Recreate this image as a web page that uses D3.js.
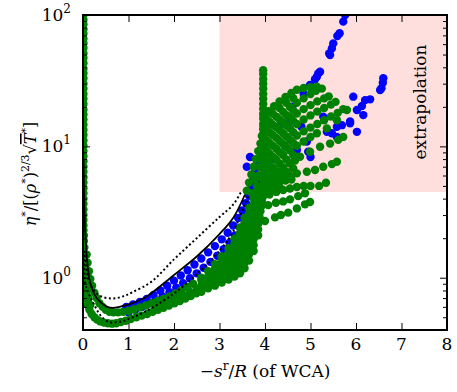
<!DOCTYPE html>
<html>
<head>
<meta charset="utf-8">
<script src="https://cdn.jsdelivr.net/npm/d3@7/dist/d3.min.js"></script>
<style>
  body { margin: 0; background: #fff; }
  text { font-family: "DejaVu Serif", serif; fill: #000; }
</style>
</head>
<body>
<svg id="chart" width="457" height="392"></svg>
<script>
// axis ticks / labels
const xTicks = [0, 1, 2, 3, 4, 5, 6, 7, 8];
const yMajor = [1, 10, 100];
const yMajorExp = ["0", "1", "2"];
const yMinor = [0.4, 0.5, 0.6, 0.7, 0.8, 0.9, 2, 3, 4, 5, 6, 7, 8, 9, 20, 30, 40, 50, 60, 70, 80, 90];
// shaded extrapolation box (x range, y range)
const extrapX = [3, 8];
const extrapY = [4.5, 100];

// model curves
const solidCurve = [[0.012,8],[0.02,5],[0.035,3],[0.06,1.9],[0.09,1.35],[0.14,0.98],[0.2,0.82],[0.3,0.7],
  [0.42,0.635],[0.55,0.597],[0.65,0.59],[0.8,0.6],[1.08,0.64],[1.4,0.72],[2.0,1.05],[2.5,1.45],
  [3.0,2.15],[3.3,2.85],[3.56,4.3]];
const upperDotted = [[0.03,1.6],[0.06,1.25],[0.09,1.08],[0.14,0.93],[0.2,0.84],[0.3,0.76],[0.45,0.71],
  [0.67,0.695],[0.9,0.725],[1.1,0.78],[1.5,0.93],[2.0,1.38],[2.5,2.0],[3.0,2.9],[3.3,3.6],[3.49,4.6]];
const lowerDotted = [[0.02,1.5],[0.05,0.9],[0.125,0.76],[0.27,0.6],[0.4,0.51],[0.56,0.461],[0.75,0.458],
  [0.93,0.475],[1.4,0.56],[2.0,0.76],[2.5,1.06],[3.0,1.6],[3.3,2.25],[3.63,4.2]];

// blue points
const blueBand = [[0.95,0.6],[1.1,0.625],[1.25,0.655],[1.4,0.69],[1.55,0.74],[1.7,0.8],[1.85,0.87],[2.0,0.95],
  [2.15,1.04],[2.3,1.14],[2.45,1.26],[2.6,1.4],[2.75,1.56],[2.9,1.74],[3.05,1.96],[3.18,2.2],[3.3,2.5],
  [3.41,2.85],[3.5,3.25],[3.58,3.7],[3.65,4.2],[3.7,4.8],[3.74,5.5],[3.78,6.3],[3.82,7.2],
  [1.0,0.545],[1.15,0.57],[1.3,0.6],[1.45,0.635],[1.6,0.675],[1.75,0.72],[1.9,0.775],[2.05,0.84],
  [2.2,0.91],[2.35,0.99],[2.5,1.08],[2.65,1.19],[2.8,1.32],[2.95,1.47],[3.09,1.65],[3.22,1.85],
  [3.34,2.1],[3.45,2.4],[3.55,2.75],[3.63,3.15]];
const blueFan = [[3.6,7.0],[3.67,8.3],[3.85,4.25],[3.89,5.2],[4.0,6.05],[4.04,5.87],[4.11,5.36],[4.15,6.2],
  [4.11,6.6],[4.2,8],[4.3,14],[4.45,10],[4.55,15.8],[4.6,20],[4.7,9.4],[4.8,14.1],[4.85,25],[4.92,10.9],
  [4.95,9.1],[5.0,8.3],[5.28,16.8],[5.36,12.9],[5.47,12.6],[5.58,11.8],[5.58,14.1],[5.69,14.5]];
const blueUpper = [[4.99,29.3],[5.1,32.4],[5.14,33.9],[5.17,35.9],[5.21,37],[5.41,51],[5.43,49.6],
  [5.47,55.7],[5.5,60.8],[5.59,69.2],[5.64,72.6],[5.72,89],[5.76,100]];
const blueRight = [[5.87,15],[5.87,15.5],[6.02,12.9],[6.02,18.9],[6.13,20.3],[6.16,17.3],[5.94,23.9],
  [6.2,22.5],[6.31,22.8],[6.53,26.8],[6.56,27.7],[6.59,30.5],[6.6,33]];

// green points: column along the y axis and the low U-shaped band
const greenLeft = [[0.01,100],[0.01,92],[0.01,85],[0.01,78],[0.01,72],[0.01,66],[0.01,61],[0.01,56],
  [0.01,51],[0.01,47],[0.01,43],[0.01,39],[0.01,36],[0.01,33],[0.01,30],[0.01,27.5],[0.01,25],[0.01,23],
  [0.01,21],[0.01,19],[0.01,17.5],[0.01,16],[0.01,14.6],[0.01,13.3],[0.01,12.2],[0.01,11.1],[0.01,10.1],
  [0.01,9.2],[0.01,8.4],[0.01,7.7],[0.01,7],[0.01,6.4],[0.01,5.8],[0.01,5.3],[0.01,4.8],[0.01,4.4],
  [0.01,4],[0.01,3.65],[0.01,3.3],[0.01,3],[0.01,2.75],[0.01,2.5],[0.01,2.3],[0.02,2.1],[0.02,1.9],
  [0.03,1.7],[0.03,1.5],[0.03,1.35],[0.03,1.2],[0.03,1.08],[0.03,0.97],[0.03,0.88],[0.03,0.8],[0.04,0.73]];
const greenBand = [[0.08,1.5],[0.1,1.3],[0.13,1.12],[0.16,0.98],[0.2,0.87],[0.25,0.77],[0.3,0.7],[0.36,0.64],
  [0.43,0.6],[0.5,0.57],[0.58,0.55],[0.67,0.545],[0.77,0.545],[0.88,0.55],[1.0,0.56],[1.12,0.575],
  [1.25,0.595],[1.38,0.615],[1.51,0.64],[1.64,0.665],[1.77,0.69],[1.9,0.72],[2.03,0.76],[2.16,0.8],
  [2.29,0.85],[2.42,0.9],
  [1.6,0.6],[1.75,0.63],[1.9,0.665],[2.05,0.7],[2.2,0.74],[2.35,0.78],[2.5,0.82],
  [0.06,0.7],[0.1,0.62],[0.14,0.57],[0.19,0.53],[0.25,0.5],[0.31,0.48],[0.38,0.465],[0.46,0.455],
  [0.55,0.45],[0.64,0.447],[0.73,0.45],[0.83,0.46],[0.94,0.47],[1.05,0.485],[1.17,0.5],[1.29,0.515],
  [1.41,0.53],[1.53,0.55],[1.65,0.57],[1.77,0.59],[1.89,0.615],[2.01,0.64],[2.13,0.665],[2.25,0.695],
  [2.37,0.725],[2.49,0.76],
  [0.05,1.1],[0.06,0.9],[0.09,0.8],[0.12,0.7],[0.16,0.62],
  // widening part of the band, read column by column
  [2.6,0.78],[2.6,0.87],[2.6,0.96],[2.6,1.0],
  [2.75,0.83],[2.75,0.92],[2.75,1.02],[2.75,1.12],
  [2.9,0.87],[2.9,0.96],[2.9,1.06],[2.9,1.17],[2.9,1.27],
  [3.05,0.92],[3.05,1.02],[3.05,1.13],[3.05,1.25],[3.05,1.36],[3.05,1.45],
  [3.2,0.97],[3.2,1.07],[3.2,1.18],[3.2,1.3],[3.2,1.43],[3.2,1.56],[3.2,1.68],
  [3.33,1.02],[3.33,1.13],[3.33,1.25],[3.33,1.38],[3.33,1.52],[3.33,1.67],[3.33,1.82],[3.33,1.98],
  [3.45,1.08],[3.45,1.2],[3.45,1.33],[3.45,1.47],[3.45,1.62],[3.45,1.79],[3.45,1.97],[3.45,2.17],[3.45,2.4],
  [3.55,1.18],[3.55,1.3],[3.55,1.44],[3.55,1.6],[3.55,1.77],[3.55,1.96],[3.55,2.17],[3.55,2.4],[3.55,2.62],[3.55,2.85],
  [3.65,1.35],[3.65,1.5],[3.65,1.66],[3.65,1.84],[3.65,2.04],[3.65,2.26],[3.65,2.5],[3.65,2.77],[3.65,3.07],[3.65,3.4],
  [3.75,1.6],[3.75,1.77],[3.75,1.96],[3.75,2.17],[3.75,2.4],[3.75,2.66],[3.75,2.95],[3.75,3.27],[3.75,3.62],[3.75,4.0],
  [3.85,2.1],[3.85,2.33],[3.85,2.58],[3.85,2.86],[3.85,3.17],[3.85,3.5],[3.85,3.9],[3.85,4.3]];
// green points near x = 4: vertical stack and its left flank
const greenSpike = [[3.8,2.3],[3.85,2.6],[3.88,2.9],[3.9,3.2],[3.92,3.5],[3.93,3.8],
  [3.6,4.6],[3.65,5.3],[3.7,6.1],[3.75,7.0],[3.8,8.0],[3.85,9.2],[3.9,10.5],[3.93,12],
  [3.72,4.4],[3.8,4.0],[3.82,5.0],[3.86,6.0],[3.88,7.0],[3.9,8.2],[3.92,9.5],[3.78,5.6],[3.84,4.6],
  [3.96,4.3],[3.96,4.7],[3.96,5.1],[3.96,5.6],[3.96,6.1],[3.96,6.7],[3.96,7.3],[3.96,8],[3.96,8.7],
  [3.96,9.5],[3.96,10.4],[3.96,11.3],[3.96,12.4],[3.96,13.5],[3.96,14.8],[3.96,16.2],[3.96,17.7],
  [3.96,19.3],[3.96,21],[3.96,23],[3.96,25],[3.96,27.5],[3.96,30],[3.96,32.5],[3.96,35.5],[3.96,38]];
// green points fanning out to the right of x = 4
const greenFan = [
  [3.78,2.5],[3.85,2.61],[4.0,2.7],[4.22,2.88],[4.35,3.0],[4.51,3.13],[4.7,3.37],[4.88,3.62],[4.99,3.77],
  [3.89,3.45],[4.07,3.57],[4.24,3.72],[4.4,3.81],[4.55,3.95],[4.73,4.18],[4.88,4.39],
  [3.95,4.1],[4.1,4.3],[4.25,4.5],[4.4,4.65],[4.55,4.78],[4.7,4.9],[4.85,5.0],[5.0,5.0],[5.19,5.0],[5.34,5.28],
  [3.95,4.8],[4.08,5.0],[4.2,5.2],[4.33,5.45],[4.45,5.5],[4.58,5.6],
  [3.97,5.0],[4.1,5.2],[4.25,5.45],[4.4,5.7],[4.55,5.95],[4.7,6.23],[4.92,6.41],[5.1,6.6],[5.28,7.0],[5.47,7.33],[5.58,7.63],
  [3.97,5.8],[4.1,6.1],[4.25,6.5],[4.4,6.9],[4.55,7.4],[4.66,7.8],[4.77,8.33],[4.99,9.1],[5.21,9.93],[5.43,10.5],[5.61,11.2],[5.72,11.8],
  [3.97,6.8],[4.1,7.3],[4.25,7.9],[4.4,8.6],[4.55,9.3],[4.7,10.1],[4.85,10.9],[5.0,11.8],[5.14,12.6],[5.36,13.7],[5.58,15.8],[5.8,18.9],
  [3.97,8.2],[4.1,8.8],[4.25,9.6],[4.4,10.4],[4.55,11.2],[4.7,12.1],[4.85,13.0],[5.0,13.9],[5.15,14.8],[5.3,15.8],[5.45,16.9],[5.6,18.0],[5.72,19.2],
  [3.97,9.8],[4.1,10.6],[4.25,11.6],[4.4,12.6],[4.55,13.7],[4.7,14.8],[4.85,16.0],[5.0,17.2],[5.15,18.4],[5.3,19.6],[5.45,20.8],[5.55,21.8],
  [3.97,11.8],[4.1,12.8],[4.25,14.0],[4.4,15.2],[4.55,16.5],[4.7,17.8],[4.85,19.2],[5.0,20.6],[5.15,22.0],[5.3,23.2],[5.4,24],
  [3.97,14.2],[4.1,15.4],[4.25,16.8],[4.4,18.3],[4.55,19.9],[4.7,21.5],[4.85,23.2],[5.0,25.0],[5.12,26.5],[5.25,27.5],
  [3.97,17],[4.08,18.5],[4.2,20.2],[4.32,22],[4.45,23.8],[4.58,25.5],[4.7,27],[4.85,27.8],[5.0,28.2],[5.14,28.5],
  // solid inner part of the fan close to the stack
  [4.03,4.6],[4.03,5.5],[4.03,6.5],[4.03,7.7],[4.03,9.3],[4.03,11.2],[4.03,13.5],[4.03,16.2],
  [4.17,4.7],[4.17,5.8],[4.17,6.9],[4.17,8.35],[4.17,10.1],[4.17,12.2],[4.17,14.6],[4.17,17.7],
  [4.32,4.9],[4.32,6.1],[4.32,7.4],[4.32,9.05],[4.32,11.0],[4.32,13.3],[4.32,16.0],[4.32,19.6],
  [4.47,6.4],[4.47,7.95],[4.47,9.8],[4.47,11.9],[4.47,14.4],[4.47,17.3],[4.47,21.5],
  [4.62,6.8],[4.62,8.6],[4.62,10.6],[4.62,12.8],[4.62,15.6],[4.62,18.8],[4.62,23.3]];

const svg = d3.select("#chart");
const x = d3.scaleLinear().domain([0, 8]).range([83, 447]);
const y = d3.scaleLog().domain([0.4, 100]).range([330, 15]);
const R = 4.2;

svg.append("clipPath").attr("id", "plotclip")
  .append("rect").attr("x", 83).attr("y", 15).attr("width", 364).attr("height", 315);

const plot = svg.append("g").attr("clip-path", "url(#plotclip)");

// extrapolation shading
plot.append("rect")
  .attr("x", x(extrapX[0])).attr("y", y(extrapY[1]))
  .attr("width", x(extrapX[1]) - x(extrapX[0]))
  .attr("height", y(extrapY[0]) - y(extrapY[1]))
  .attr("fill", "#ffdede");

function dots(data, color) {
  plot.append("g").selectAll("circle").data(data).enter().append("circle")
    .attr("cx", d => x(d[0])).attr("cy", d => y(d[1])).attr("r", R)
    .attr("fill", color);
}
dots(blueBand, "#0000ff");
dots(blueFan, "#0000ff");
dots(blueUpper, "#0000ff");
dots(blueRight, "#0000ff");
dots(greenLeft, "#008000");
dots(greenBand, "#008000");
dots(greenSpike, "#008000");
dots(greenFan, "#008000");

const line = d3.line().x(d => x(d[0])).y(d => y(d[1])).curve(d3.curveCatmullRom);
plot.append("path").attr("d", line(upperDotted)).attr("fill", "none")
  .attr("stroke", "#000").attr("stroke-width", 2).attr("stroke-dasharray", "2,2.5");
plot.append("path").attr("d", line(lowerDotted)).attr("fill", "none")
  .attr("stroke", "#000").attr("stroke-width", 2).attr("stroke-dasharray", "2,2.5");
plot.append("path").attr("d", line(solidCurve)).attr("fill", "none")
  .attr("stroke", "#000").attr("stroke-width", 1.8);

// ticks (pointing inward on all four sides)
function tickStyle(g) {
  g.select(".domain").remove();
  g.selectAll(".tick line").attr("stroke", "#000").attr("stroke-width", 1);
  g.selectAll(".tick text").remove();
}
svg.append("g").attr("transform", "translate(0,330)")
  .call(d3.axisBottom(x).tickValues(xTicks).tickSize(-7)).call(tickStyle);
svg.append("g").attr("transform", "translate(0,15)")
  .call(d3.axisTop(x).tickValues(xTicks).tickSize(-7)).call(tickStyle);
svg.append("g").attr("transform", "translate(83,0)")
  .call(d3.axisLeft(y).tickValues(yMajor).tickSize(-7)).call(tickStyle);
svg.append("g").attr("transform", "translate(83,0)")
  .call(d3.axisLeft(y).tickValues(yMinor).tickSize(-4)).call(tickStyle);
svg.append("g").attr("transform", "translate(447,0)")
  .call(d3.axisRight(y).tickValues(yMajor).tickSize(-7)).call(tickStyle);
svg.append("g").attr("transform", "translate(447,0)")
  .call(d3.axisRight(y).tickValues(yMinor).tickSize(-4)).call(tickStyle);

// frame
svg.append("rect").attr("x", 83).attr("y", 15).attr("width", 364).attr("height", 315)
  .attr("fill", "none").attr("stroke", "#000").attr("stroke-width", 2);

// tick labels
svg.append("g").selectAll("text").data(xTicks).enter().append("text")
  .attr("x", d => x(d)).attr("y", 350).attr("text-anchor", "middle")
  .attr("font-size", 17).text(d => d);
const yl = svg.append("g").selectAll("text").data(yMajor).enter().append("text")
  .attr("x", 71).attr("y", d => y(d) + 6).attr("text-anchor", "end").attr("font-size", 17);
yl.append("tspan").text("10");
yl.append("tspan").attr("dy", -8).attr("font-size", 12).text((d, i) => yMajorExp[i]);

// axis titles
const xt = svg.append("text").attr("x", 265).attr("y", 377).attr("text-anchor", "middle").attr("font-size", 17);
xt.append("tspan").text("\u2212");
xt.append("tspan").attr("font-style", "italic").text("s");
xt.append("tspan").attr("dy", -7).attr("font-size", 12).text("r");
xt.append("tspan").attr("dy", 7).text("/");
xt.append("tspan").attr("font-style", "italic").text("R");
xt.append("tspan").text(" (of WCA)");

const yt = svg.append("text").attr("transform", "translate(36,174) rotate(-90)")
  .attr("text-anchor", "middle").attr("font-size", 16);
yt.append("tspan").attr("font-style", "italic").text("\u03b7");
yt.append("tspan").attr("dy", -7).attr("font-size", 11).text("*");
yt.append("tspan").attr("dy", 7).text("/[(");
yt.append("tspan").attr("font-style", "italic").text("\u03c1");
yt.append("tspan").attr("dy", -7).attr("font-size", 11).text("*");
yt.append("tspan").attr("dy", 7).text(")");
yt.append("tspan").attr("dy", -7).attr("font-size", 11).text("2/3");
yt.append("tspan").attr("dy", 7).text("\u221a");
yt.append("tspan").attr("font-style", "italic").style("text-decoration", "overline").text("T");
yt.append("tspan").attr("dy", -7).attr("font-size", 11).text("*");
yt.append("tspan").attr("dy", 7).text("]");

svg.append("text").attr("transform", "translate(426,102) rotate(-90)")
  .attr("text-anchor", "middle").attr("font-size", 17).text("extrapolation");
</script>
</body>
</html>
